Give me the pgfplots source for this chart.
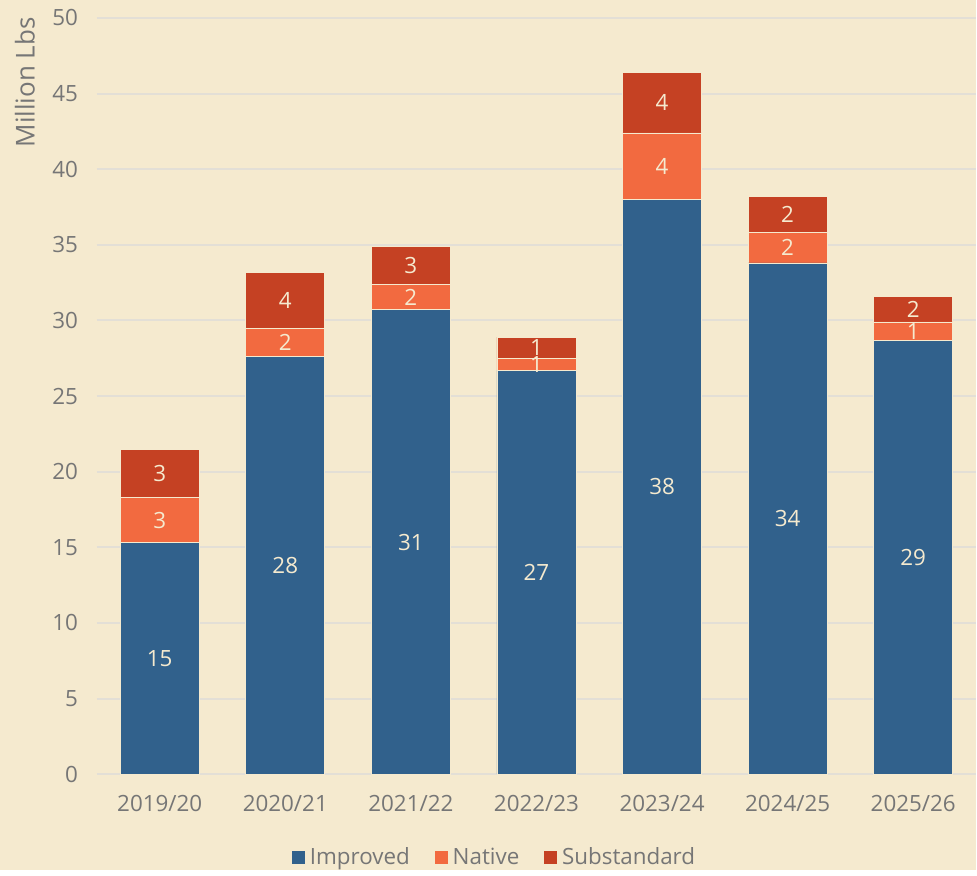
\documentclass[border=0pt]{standalone}
\usepackage{fontspec}
\setmainfont{Open Sans}
\usepackage{pgfplots}
\pgfplotsset{compat=1.18}
\definecolor{bg}{HTML}{F5EACF}
\definecolor{improved}{HTML}{31618C}
\definecolor{native}{HTML}{F26A40}
\definecolor{substd}{HTML}{C54123}
\definecolor{txt}{HTML}{767676}
\definecolor{gridc}{HTML}{E3DFD6}

\begin{document}
\begin{tikzpicture}
% page = 977 x 871 px at 0.5pt per px
\fill[bg] (0,0) rectangle (488.5pt,435.5pt);
\begin{axis}[
    at={(48.5pt,48pt)}, anchor=south west,
    scale only axis,
    width=440pt, height=378.5pt,
    ybar stacked,
    bar width=39.5pt,
    xmin=-0.5, xmax=6.5,
    ymin=0, ymax=50,
    ytick={0,5,...,50},
    xtick=data,
    xticklabels={2019/20,2020/21,2021/22,2022/23,2023/24,2024/25,2025/26},
    axis line style={draw=none},
    tick style={draw=none},
    ymajorgrids,
    grid style={gridc, line width=1pt},
    font=\fontsize{11.2}{13}\selectfont,
    tick label style={txt},
    /pgf/number format/assume math mode=true,
    yticklabel style={xshift=-6pt},
    xticklabel style={yshift=-7pt},
    ylabel={Million Lbs},
    ylabel style={txt, font=\fontsize{13}{15}\selectfont,
        at={(rel axis cs:-0.082,0.915)}, anchor=center},
    legend columns=-1,
    legend style={draw=none, fill=none, at={(0.453,-0.11)}, anchor=center,
        text=txt, /tikz/every even column/.append style={column sep=10pt}},
    legend image code/.code={\fill[#1] (0pt,-3.5pt) rectangle (7pt,3.5pt);},
    nodes near coords={\pgfmathprintnumber[fixed,precision=0]{\pgfplotspointmeta}},
    every node near coord/.append style={anchor=center, text=bg},
]
\addplot[fill=improved, draw=bg, line width=0.4pt] coordinates {
(0,15.3) (1,27.6) (2,30.7) (3,26.7) (4,38.0) (5,33.8) (6,28.7)};
\addplot[fill=native, draw=bg, line width=0.4pt] coordinates {
(0,3.0) (1,1.9) (2,1.7) (3,0.8) (4,4.4) (5,2.0) (6,1.2)};
\addplot[fill=substd, draw=bg, line width=0.4pt] coordinates {
(0,3.2) (1,3.7) (2,2.5) (3,1.4) (4,4.0) (5,2.4) (6,1.7)};
\legend{Improved,Native,Substandard}
\end{axis}
\end{tikzpicture}
\end{document}
